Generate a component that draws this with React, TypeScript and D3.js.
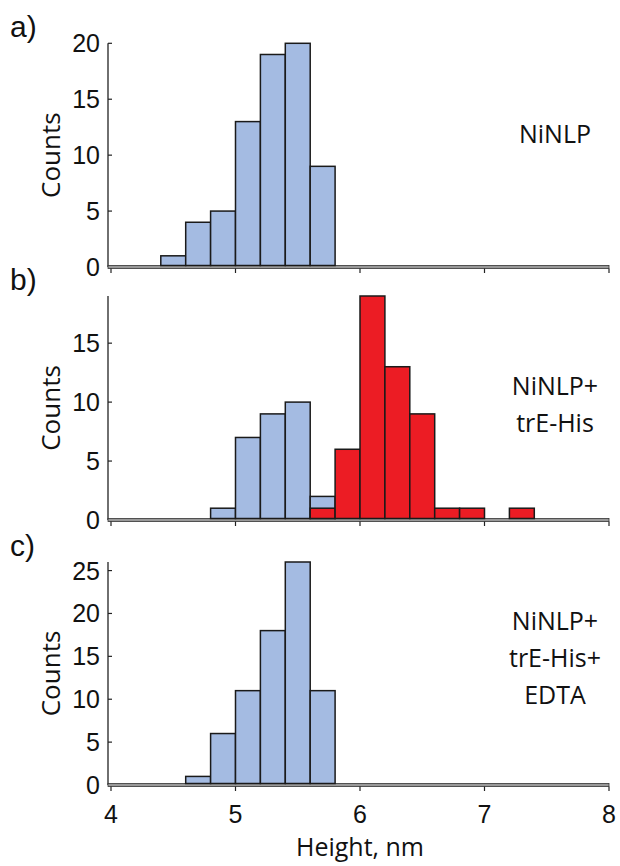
import React from "react";
import * as d3 from "d3";

// histogram data (bin start, nm; bin width 0.2 nm)
const binWidth = 0.2;

const aBins = [4.4, 4.6, 4.8, 5.0, 5.2, 5.4, 5.6];
const aCounts = [1, 4, 5, 13, 19, 20, 9];

const bBlueBins = [4.8, 5.0, 5.2, 5.4, 5.6];
const bBlueCounts = [1, 7, 9, 10, 2];
const bRedBins = [5.6, 5.8, 6.0, 6.2, 6.4, 6.6, 6.8, 7.2];
const bRedCounts = [1, 6, 19, 13, 9, 1, 1, 1];

const cBins = [4.6, 4.8, 5.0, 5.2, 5.4, 5.6];
const cCounts = [1, 6, 11, 18, 26, 11];

const aTicks = [0, 5, 10, 15, 20];
const bTicks = [0, 5, 10, 15];
const cTicks = [0, 5, 10, 15, 20, 25];
const xTicks = [4, 5, 6, 7, 8];

const BLUE = "#a4bbe2";
const RED = "#ec1c24";
const NUM_FONT = "'Liberation Sans', Arial, sans-serif";
const TXT_FONT = "'Open Sans', sans-serif";

const x = d3.scaleLinear().domain([4, 8]).range([111, 609]);

type Series = { bins: number[]; counts: number[]; color: string };

type PanelProps = {
  letter: string;
  yMax: number;
  top: number;
  bottom: number;
  ticks: number[];
  series: Series[];
  note: string[];
  noteY: number;
  showX?: boolean;
};

function Panel({ letter, yMax, top, bottom, ticks, series, note, noteY, showX }: PanelProps) {
  const y = d3.scaleLinear().domain([0, yMax]).range([bottom, top]);
  const axisX = 108;
  return (
    <g>
      <text x={10} y={top - 6} fontFamily={NUM_FONT} fontSize={30} fill="#111">
        {letter}
      </text>
      <text
        transform={`translate(60,${(top + bottom) / 2}) rotate(-90)`}
        textAnchor="middle"
        fontFamily={TXT_FONT}
        fontSize={26}
        fill="#111"
      >
        Counts
      </text>

      {/* y axis */}
      <line x1={axisX} x2={axisX} y1={y(yMax)} y2={bottom} stroke="#222" strokeWidth={1.3} />
      {ticks.map((t) => (
        <g key={t}>
          <line x1={axisX} x2={axisX + 4} y1={y(t)} y2={y(t)} stroke="#222" strokeWidth={1.2} />
          <text
            x={100}
            y={y(t)}
            dy="0.36em"
            textAnchor="end"
            fontFamily={NUM_FONT}
            fontSize={25}
            fill="#111"
          >
            {t}
          </text>
        </g>
      ))}

      {/* baseline band */}
      <rect x={axisX} y={bottom - 1.5} width={x(8) - axisX} height={3} fill="#999" stroke="#333" strokeWidth={0.8} />
      {xTicks.map((t) => (
        <line key={t} x1={x(t)} x2={x(t)} y1={bottom + 1.5} y2={bottom + 6} stroke="#222" strokeWidth={1.2} />
      ))}

      {series.map((s, si) =>
        s.bins.map((b, i) => (
          <rect
            key={`${si}-${i}`}
            x={x(b)}
            y={y(s.counts[i])}
            width={x(b + binWidth) - x(b)}
            height={bottom - 1.5 - y(s.counts[i])}
            fill={s.color}
            stroke="#1a1a1a"
            strokeWidth={1.5}
          />
        ))
      )}

      {note.map((line, i) => (
        <text
          key={i}
          x={555}
          y={noteY + i * 37}
          textAnchor="middle"
          fontFamily={TXT_FONT}
          fontSize={25}
          fill="#111"
        >
          {line}
        </text>
      ))}

      {showX && (
        <g>
          {xTicks.map((t) => (
            <text key={t} x={x(t)} y={823} textAnchor="middle" fontFamily={NUM_FONT} fontSize={25} fill="#111">
              {t}
            </text>
          ))}
          <text x={x(6)} y={856} textAnchor="middle" fontFamily={TXT_FONT} fontSize={25} fill="#111">
            Height, nm
          </text>
        </g>
      )}
    </g>
  );
}

export default function App() {
  return (
    <svg
      width={620}
      height={866}
      style={{ position: "absolute", left: 0, top: 0, background: "#fff" }}
    >
      <Panel
        letter="a)"
        yMax={20}
        top={43.3}
        bottom={267}
        ticks={aTicks}
        series={[{ bins: aBins, counts: aCounts, color: BLUE }]}
        note={["NiNLP"]}
        noteY={143}
      />
      <Panel
        letter="b)"
        yMax={19}
        top={296}
        bottom={520}
        ticks={bTicks}
        series={[
          { bins: bBlueBins, counts: bBlueCounts, color: BLUE },
          { bins: bRedBins, counts: bRedCounts, color: RED },
        ]}
        note={["NiNLP+", "trE-His"]}
        noteY={395}
      />
      <Panel
        letter="c)"
        yMax={26}
        top={562}
        bottom={785}
        ticks={cTicks}
        series={[{ bins: cBins, counts: cCounts, color: BLUE }]}
        note={["NiNLP+", "trE-His+", "EDTA"]}
        noteY={630}
        showX
      />
    </svg>
  );
}
